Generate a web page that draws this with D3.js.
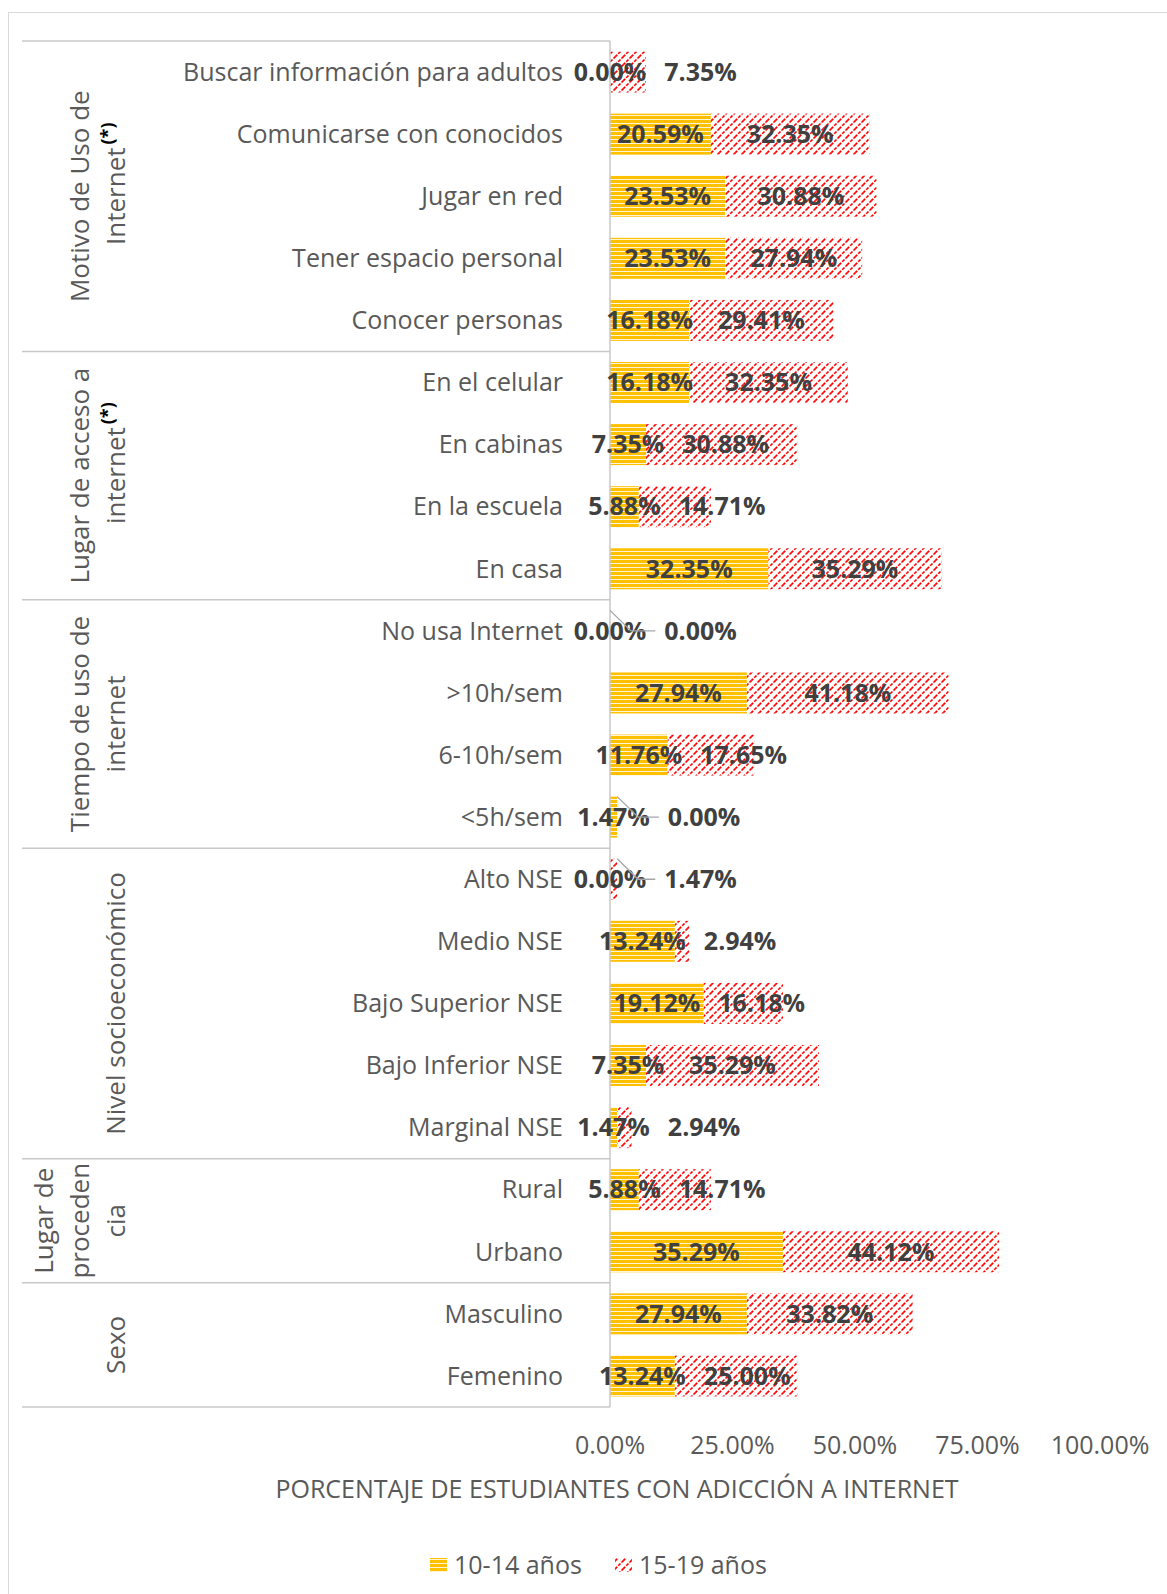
<!DOCTYPE html>
<html>
<head>
<meta charset="utf-8">
<script src="https://cdn.jsdelivr.net/npm/d3@7"></script>
<style>
  body { margin: 0; background: #fff; }
  text { font-family: "Open Sans", sans-serif; }
</style>
</head>
<body>
<div class="chart"></div>
<script>
// data (percent of students with internet addiction)
var groupNames = [
  ["Motivo de Uso de", "Internet"],
  ["Lugar de acceso a", "internet"],
  ["Tiempo de uso de", "internet"],
  ["Nivel socioeconómico"],
  ["Lugar de", "proceden", "cia"],
  ["Sexo"]
];
var groupSizes = [5, 4, 4, 5, 2, 2];
var groupStar = [true, true, false, false, false, false];

var categories = [
  "Buscar información para adultos", "Comunicarse con conocidos", "Jugar en red",
  "Tener espacio personal", "Conocer personas",
  "En el celular", "En cabinas", "En la escuela", "En casa",
  "No usa Internet", ">10h/sem", "6-10h/sem", "<5h/sem",
  "Alto NSE", "Medio NSE", "Bajo Superior NSE", "Bajo Inferior NSE", "Marginal NSE",
  "Rural", "Urbano",
  "Masculino", "Femenino"
];
var age1014 = [0.00, 20.59, 23.53, 23.53, 16.18, 16.18, 7.35, 5.88, 32.35,
  0.00, 27.94, 11.76, 1.47, 0.00, 13.24, 19.12, 7.35, 1.47, 5.88, 35.29, 27.94, 13.24];
var age1519 = [7.35, 32.35, 30.88, 27.94, 29.41, 32.35, 30.88, 14.71, 35.29,
  0.00, 41.18, 17.65, 0.00, 1.47, 2.94, 16.18, 35.29, 2.94, 14.71, 44.12, 33.82, 25.00];
var seriesNames = ["10-14 años", "15-19 años"];
var xTicks = [0, 25, 50, 75, 100];
var xTitle = "PORCENTAJE DE ESTUDIANTES CON ADICCIÓN A INTERNET";

var svgWidth = 1167, svgHeight = 1594;
var plot = {left: 610, right: 1100, top: 41, bottom: 1407};
var tableLeft = 22;

var svg = d3.select(".chart").append("svg")
  .attr("width", svgWidth)
  .attr("height", svgHeight);

// fill patterns, like the excel ones
var defs = svg.append("defs");
var pY = defs.append("pattern").attr("id", "pYellow")
  .attr("patternUnits", "userSpaceOnUse").attr("width", 8).attr("height", 4);
pY.append("rect").attr("width", 8).attr("height", 4).attr("fill", "#FFC000");
pY.append("rect").attr("y", 3).attr("width", 8).attr("height", 1).attr("fill", "#FFF4D6");

var pR = defs.append("pattern").attr("id", "pRed")
  .attr("patternUnits", "userSpaceOnUse").attr("width", 8).attr("height", 8);
pR.append("rect").attr("width", 8).attr("height", 8).attr("fill", "#fff");
pR.append("path")
  .attr("d", "M-1,9 L9,-1 M-1,1 L1,-1 M7,9 L9,7")
  .attr("stroke", "#FF0000").attr("stroke-width", 1.7)
  .attr("stroke-dasharray", "3.2,1.4");

// outer chart border (right and bottom edges run off the page)
svg.append("rect")
  .attr("x", 8.5).attr("y", 12.5)
  .attr("width", 1170).attr("height", 1600)
  .attr("fill", "none").attr("stroke", "#D9D9D9");

var x = d3.scaleLinear().domain([0, 100]).range([plot.left, plot.right]);
var y = d3.scaleBand()
  .domain(d3.range(categories.length))
  .range([plot.top, plot.bottom])
  .paddingInner(0.34)
  .paddingOuter(0.17);
var step = y.step();

// bars
var rows = categories.map(function(c, i) {
  return {i: i, a: age1014[i], b: age1519[i]};
});
var chart = svg.append("g");
chart.selectAll("rect.a").data(rows).enter().append("rect")
  .attr("class", "a")
  .attr("x", function(d) { return x(0); })
  .attr("y", function(d) { return y(d.i); })
  .attr("width", function(d) { return x(d.a) - x(0); })
  .attr("height", y.bandwidth())
  .attr("fill", "url(#pYellow)");
chart.selectAll("rect.b").data(rows).enter().append("rect")
  .attr("class", "b")
  .attr("x", function(d) { return x(d.a); })
  .attr("y", function(d) { return y(d.i); })
  .attr("width", function(d) { return x(d.a + d.b) - x(d.a); })
  .attr("height", y.bandwidth())
  .attr("fill", "url(#pRed)");

// category table lines
var lines = svg.append("g").attr("stroke", "#C8C8C8").attr("stroke-width", 1.5);
var bounds = [0];
groupSizes.forEach(function(s) { bounds.push(bounds[bounds.length - 1] + s); });
bounds.forEach(function(b) {
  var yy = plot.top + b * step;
  lines.append("line")
    .attr("x1", tableLeft).attr("x2", plot.left)
    .attr("y1", yy).attr("y2", yy);
});
lines.append("line")
  .attr("x1", plot.left).attr("x2", plot.left)
  .attr("y1", plot.top).attr("y2", plot.bottom);

// category labels
svg.append("g").selectAll("text").data(categories).enter().append("text")
  .attr("x", 563)
  .attr("y", function(d, i) { return y(i) + y.bandwidth() / 2; })
  .attr("dy", "0.35em")
  .attr("text-anchor", "end")
  .attr("fill", "#595959")
  .style("font-size", "25px")
  .text(function(d) { return d; });

// group labels, rotated
groupNames.forEach(function(lns, g) {
  var cy = plot.top + (bounds[g] + groupSizes[g] / 2) * step;
  lns.forEach(function(t, k) {
    var bx = 125 - (lns.length - 1 - k) * 36;
    var gl = svg.append("g").attr("transform", "translate(" + bx + "," + cy + ") rotate(-90)");
    var tx = gl.append("text")
      .attr("text-anchor", "middle")
      .attr("fill", "#595959")
      .style("font-size", "26px")
      .text(t);
    if (groupStar[g] && k === lns.length - 1) {
      var len = tx.node().getComputedTextLength();
      gl.append("text")
        .attr("x", len / 2 + 3)
        .attr("y", -11)
        .attr("fill", "#000")
        .style("font-size", "18px")
        .style("font-weight", "bold")
        .text("(*)");
    }
  });
});

// data labels
var fmt = function(v) { return v.toFixed(2) + "%"; };
var labels = svg.append("g")
  .attr("fill", "#404040")
  .style("font-size", "25px")
  .style("font-weight", "bold");
rows.forEach(function(d) {
  var cy = y(d.i) + y.bandwidth() / 2;
  var la = labels.append("text")
    .attr("x", (x(0) + x(d.a)) / 2)
    .attr("y", cy).attr("dy", "0.35em")
    .attr("text-anchor", "middle")
    .text(fmt(d.a));
  var wa = la.node().getComputedTextLength();
  var aEnd = (x(0) + x(d.a)) / 2 + wa / 2;

  var lb = labels.append("text")
    .attr("y", cy).attr("dy", "0.35em")
    .text(fmt(d.b));
  var wb = lb.node().getComputedTextLength();
  var start = (x(d.a) + x(d.a + d.b)) / 2 - wb / 2;
  if (start < aEnd + 18) start = aEnd + 18;
  lb.attr("x", start);

  // leader line for tiny segments
  if (d.b < 2) {
    var x0 = x(d.a + d.b);
    svg.append("path")
      .attr("d", "M" + x0 + "," + y(d.i) + " L" + (x0 + 21) + "," + cy + " L" + (start - 9) + "," + cy)
      .attr("fill", "none")
      .attr("stroke", "#A6A6A6")
      .attr("stroke-width", 1.3);
  }
});

// x axis tick labels
svg.append("g").selectAll("text").data(xTicks).enter().append("text")
  .attr("x", function(d) { return x(d); })
  .attr("y", 1445).attr("dy", "0.35em")
  .attr("text-anchor", "middle")
  .attr("fill", "#595959")
  .style("font-size", "25px")
  .text(function(d) { return d.toFixed(2) + "%"; });

svg.append("text")
  .attr("x", 617).attr("y", 1489).attr("dy", "0.35em")
  .attr("text-anchor", "middle")
  .attr("fill", "#595959")
  .style("font-size", "25px")
  .text(xTitle);

// legend
var legend = svg.append("g");
var legX = [430, 615];
seriesNames.forEach(function(s, i) {
  legend.append("rect")
    .attr("x", legX[i]).attr("y", 1558)
    .attr("width", 17).attr("height", 14)
    .attr("fill", i === 0 ? "url(#pYellow)" : "url(#pRed)");
  legend.append("text")
    .attr("x", legX[i] + 24).attr("y", 1565).attr("dy", "0.35em")
    .attr("fill", "#595959")
    .style("font-size", "25px")
    .text(s);
});
</script>
</body>
</html>
